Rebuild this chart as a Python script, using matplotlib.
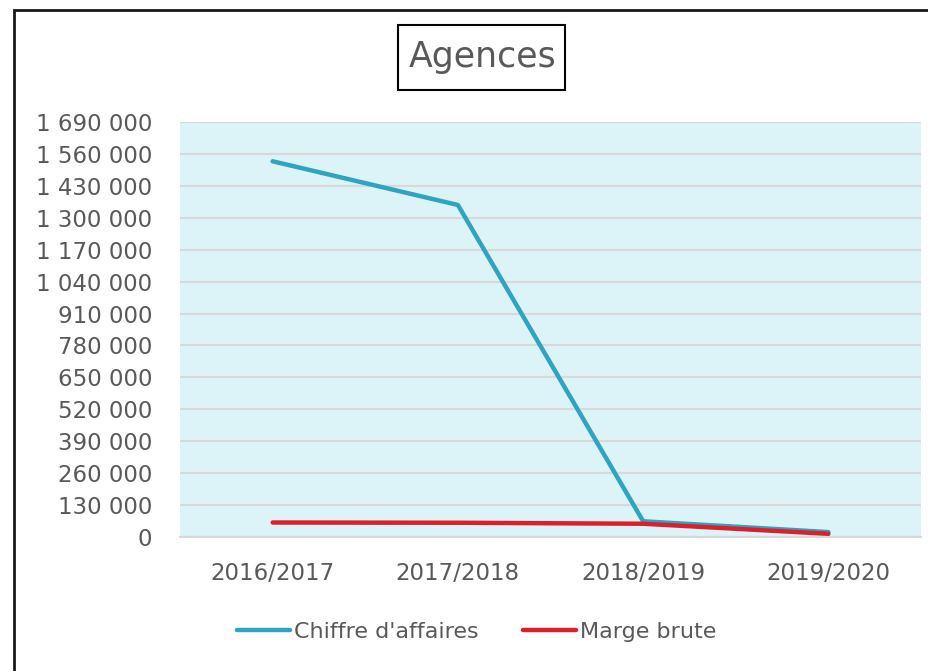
import matplotlib.pyplot as plt
from matplotlib.patches import Rectangle

annees = ['2016/2017', '2017/2018', '2018/2019', '2019/2020']
chiffre_affaires = [1530000, 1352000, 64000, 20000]
marge_brute = [59000, 58000, 54000, 13000]
graduations = list(range(0, 1690001, 130000))

gris = '#595959'
plt.rcParams['font.family'] = 'DejaVu Sans'

fig = plt.figure(figsize=(9.29, 6.71), dpi=100)
ax = fig.add_axes([0.1938, 0.1997, 0.7976, 0.6185])
ax.set_facecolor('#dcf3f8')

x = range(len(annees))
ax.plot(x, chiffre_affaires, color='#2ea3c2', lw=3.2, solid_capstyle='round',
        solid_joinstyle='round', label="Chiffre d'affaires", zorder=3)
ax.plot(x, marge_brute, color='#dd1f2b', lw=3.2, solid_capstyle='round',
        solid_joinstyle='round', label='Marge brute', zorder=4)

ax.set_xlim(-0.5, len(annees) - 0.5)
ax.set_ylim(0, 1690000)
ax.set_xticks(list(x))
ax.set_xticklabels(annees)
ax.set_yticks(graduations)
ax.set_yticklabels([f'{v:,}'.replace(',', ' ') for v in graduations])
ax.tick_params(axis='both', length=0, colors=gris, labelsize=16.5)
ax.tick_params(axis='x', pad=18)
ax.tick_params(axis='y', pad=20)

ax.grid(axis='y', color='#d9d9d9', lw=1.5)
ax.set_axisbelow(True)
for s in ['top', 'right', 'left']:
    ax.spines[s].set_visible(False)
ax.spines['bottom'].set_color('#d9d9d9')
ax.spines['bottom'].set_linewidth(1.5)

# titre dans un cadre
fig.text(0.519, 0.915, 'Agences', ha='center', va='center', fontsize=25, color=gris)
fig.patches.append(Rectangle((398 / 929, 581 / 671), 167 / 929, 65 / 671,
                             transform=fig.transFigure, fill=False, ec='black', lw=1.5))

fig.legend(loc='center', bbox_to_anchor=(0.513, 0.058), ncol=2, frameon=False,
           fontsize=16, labelcolor=gris, handlelength=2.4, handletextpad=0.17,
           columnspacing=2.0)

# cadre extérieur
fig.patches.append(Rectangle((14 / 929, -0.1), 1.1, (661 / 671) + 0.1,
                             transform=fig.transFigure, fill=False, ec='#1a1a1a', lw=2))

fig.savefig('out.png', dpi=100)
